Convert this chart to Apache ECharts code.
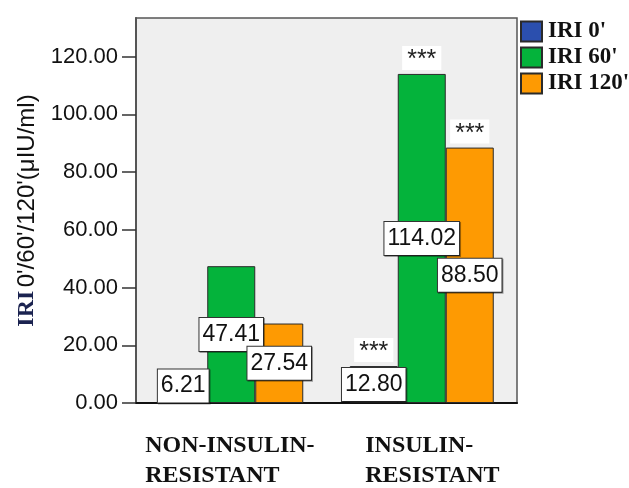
<!DOCTYPE html>
<html>
<head>
<meta charset="utf-8">
<script src="https://cdn.jsdelivr.net/npm/echarts@6/dist/echarts.min.js"></script>
<style>
  html, body { margin: 0; padding: 0; background: #ffffff; }
  #chart { width: 629px; height: 488px; }
</style>
</head>
<body>
<div id="chart"></div>
<script>
// Groups and insulin values (μIU/ml) at 0, 60 and 120 minutes
var categories = ['NON-INSULIN-\nRESISTANT', 'INSULIN-\nRESISTANT'];
var seriesNames = ["IRI 0'", "IRI 60'", "IRI 120'"];
var iri0 = [6.21, 12.80];
var iri60 = [47.41, 114.02];
var iri120 = [27.54, 88.50];
var yTicks = [0, 20, 40, 60, 80, 100, 120];
var sigMark = '***';

var colors = ['#2b4fae', '#04b33b', '#fe9a02'];
var sans = '"Liberation Sans", Arial, sans-serif';
var serif = '"Liberation Serif", "Times New Roman", serif';

var valueLabel = {
  show: true,
  position: 'inside',
  formatter: function (p) { return Number(p.value).toFixed(2); },
  fontFamily: sans,
  fontSize: 23,
  color: '#111111',
  backgroundColor: '#ffffff',
  borderColor: '#333333',
  borderWidth: 1,
  padding: [6, 3, 3, 3],
  lineHeight: 24,
  shadowColor: 'rgba(0,0,0,0.35)',
  shadowOffsetX: 1,
  shadowOffsetY: 1
};

function sigPoint(values) {
  return {
    symbol: 'rect',
    symbolSize: 0,
    label: {
      show: true,
      position: 'top',
      distance: 4,
      formatter: sigMark,
      fontFamily: sans,
      fontSize: 25,
      color: '#222222',
      backgroundColor: '#ffffff',
      padding: [5, 5, 0, 5],
      lineHeight: 19
    },
    data: [{ coord: [categories[1], values[1]] }]
  };
}

function makeSeries(idx, values) {
  return {
    name: seriesNames[idx],
    type: 'bar',
    barWidth: 48,
    barGap: 0,
    itemStyle: { color: colors[idx], borderColor: '#2a2a2a', borderWidth: 1 },
    label: valueLabel,
    data: values.map(function (v, i) {
      // the shortest bar keeps its label box resting on the axis
      if (idx === 0 && i === 0) {
        return { value: v, label: { offset: [0, -8] } };
      }
      return v;
    }),
    markPoint: sigPoint(values)
  };
}

var chart = echarts.init(document.getElementById('chart'), null, { renderer: 'canvas' });
chart.setOption({
  animation: false,
  backgroundColor: '#ffffff',
  grid: {
    left: 136, top: 18, right: 112, bottom: 83,
    show: true,
    backgroundColor: '#efefef',
    borderColor: '#555555',
    borderWidth: 1.5
  },
  legend: {
    orient: 'vertical',
    left: 520,
    top: 20,
    padding: 0,
    itemWidth: 21,
    itemHeight: 20,
    itemGap: 3,
    icon: 'rect',
    data: seriesNames,
    textStyle: {
      fontFamily: serif,
      fontWeight: 'bold',
      fontSize: 23,
      color: '#111111',
      padding: [0, 0, 0, 1]
    }
  },
  xAxis: {
    type: 'category',
    data: categories,
    axisLine: { lineStyle: { color: '#111111', width: 2 } },
    axisTick: { alignWithLabel: true, length: 15, lineStyle: { color: '#222222', width: 1.5 } },
    axisLabel: {
      margin: 28,
      interval: 0,
      formatter: function (v, i) {
        var lines = v.split('\n');
        var key = i === 0 ? 'a' : 'b';
        return lines.map(function (l) { return '{' + key + '|' + l + '}'; }).join('\n');
      },
      rich: {
        a: { fontFamily: serif, fontWeight: 'bold', fontSize: 24, color: '#111111', width: 172, align: 'left', lineHeight: 30 },
        b: { fontFamily: serif, fontWeight: 'bold', fontSize: 24, color: '#111111', width: 133, align: 'left', lineHeight: 30, padding: [0, 0, 0, 20] }
      }
    }
  },
  yAxis: {
    type: 'value',
    min: 0,
    max: 133.4,
    interval: 20,
    name: "{a|IRI} {b|0'/60'/120'(μIU/ml)}",
    nameLocation: 'middle',
    nameGap: 97,
    nameRotate: 90,
    nameTextStyle: {
      rich: {
        a: { fontFamily: serif, fontWeight: 'bold', fontSize: 24, color: '#1b2350' },
        b: { fontFamily: sans, fontSize: 24, color: '#111111' }
      }
    },
    splitLine: { show: false },
    axisLine: { show: true, lineStyle: { color: '#555555', width: 2 } },
    axisTick: { show: true, length: 14, customValues: yTicks, lineStyle: { color: '#333333', width: 1.5 } },
    axisLabel: {
      customValues: yTicks,
      margin: 18,
      fontFamily: sans,
      fontSize: 22,
      color: '#111111',
      formatter: function (v) { return Number(v).toFixed(2); }
    }
  },
  series: [
    makeSeries(0, iri0),
    makeSeries(1, iri60),
    makeSeries(2, iri120)
  ]
});
</script>
</body>
</html>
